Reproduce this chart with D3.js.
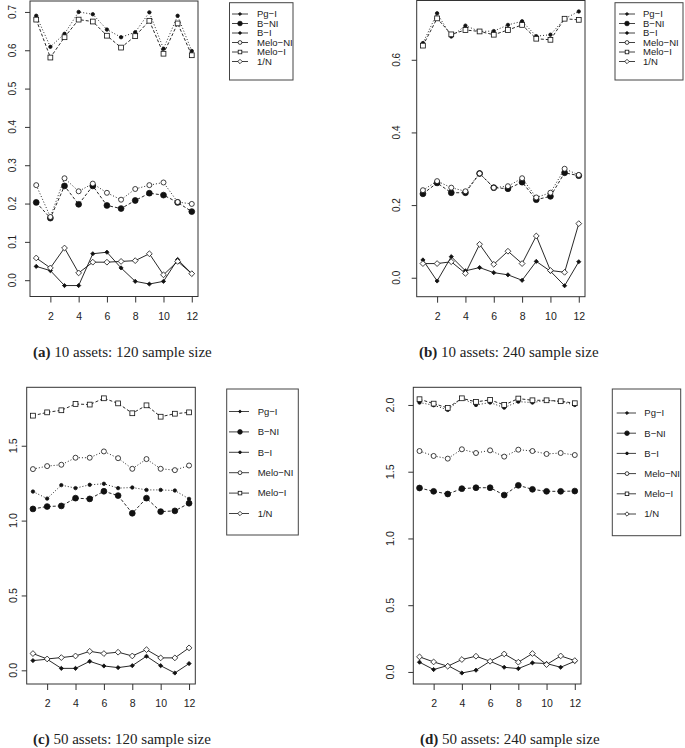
<!DOCTYPE html>
<html>
<head>
<meta charset="utf-8">
<script src="https://cdn.jsdelivr.net/npm/d3@7"></script>
<style>
  body { margin: 0; background: #fff; }
  text { fill: #222; }
</style>
</head>
<body>
<svg id="chart" width="685" height="748"></svg>
<script>
// x categories and tick labels
const periods = [1, 2, 3, 4, 5, 6, 7, 8, 9, 10, 11, 12];
const xTicks = [2, 4, 6, 8, 10, 12];

const seriesNames = ["Pg\u2212I", "B\u2212NI", "B\u2212I", "Melo\u2212NI", "Melo\u2212I", "1/N"];

// (a) 10 assets, 120 sample size
const pgI_a    = [0.036, 0.025, -0.014, -0.014, 0.069, 0.073, 0.032, -0.003, -0.010, -0.003, 0.054, 0.017];
const bNI_a    = [0.203, 0.162, 0.246, 0.198, 0.246, 0.195, 0.187, 0.208, 0.227, 0.222, 0.203, 0.179];
const bI_a     = [0.690, 0.609, 0.643, 0.700, 0.694, 0.654, 0.634, 0.647, 0.699, 0.604, 0.690, 0.598];
const meloNI_a = [0.248, 0.165, 0.266, 0.232, 0.252, 0.228, 0.210, 0.238, 0.248, 0.255, 0.204, 0.199];
const meloI_a  = [0.680, 0.581, 0.634, 0.680, 0.675, 0.638, 0.607, 0.637, 0.677, 0.591, 0.670, 0.587];
const oneN_a   = [0.058, 0.032, 0.084, 0.019, 0.047, 0.047, 0.049, 0.051, 0.069, 0.014, 0.049, 0.017];

// (b) 10 assets, 240 sample size
const pgI_b    = [0.049, -0.009, 0.058, 0.019, 0.028, 0.014, 0.008, -0.007, 0.045, 0.018, -0.022, 0.044];
const bNI_b    = [0.231, 0.261, 0.234, 0.234, 0.287, 0.248, 0.245, 0.263, 0.215, 0.224, 0.289, 0.281];
const bI_b     = [0.646, 0.728, 0.664, 0.694, 0.678, 0.679, 0.696, 0.706, 0.665, 0.669, 0.713, 0.733];
const meloNI_b = [0.241, 0.266, 0.248, 0.238, 0.287, 0.248, 0.252, 0.274, 0.221, 0.234, 0.300, 0.283];
const meloI_b  = [0.639, 0.714, 0.670, 0.682, 0.678, 0.669, 0.682, 0.696, 0.658, 0.655, 0.713, 0.710];
const oneN_b   = [0.039, 0.039, 0.044, 0.012, 0.092, 0.037, 0.073, 0.039, 0.115, 0.020, 0.015, 0.149];

// (c) 50 assets, 120 sample size
const pgI_c    = [0.065, 0.074, 0.013, 0.013, 0.060, 0.029, 0.018, 0.031, 0.094, 0.031, -0.018, 0.045];
const bNI_c    = [1.078, 1.094, 1.098, 1.150, 1.145, 1.196, 1.167, 1.049, 1.150, 1.060, 1.065, 1.116];
const bI_c     = [1.194, 1.147, 1.237, 1.217, 1.239, 1.246, 1.217, 1.221, 1.205, 1.205, 1.201, 1.145];
const meloNI_c = [1.344, 1.364, 1.373, 1.420, 1.420, 1.462, 1.417, 1.346, 1.411, 1.346, 1.337, 1.368];
const meloI_c  = [1.701, 1.723, 1.737, 1.779, 1.775, 1.817, 1.783, 1.717, 1.770, 1.694, 1.714, 1.723];
const oneN_c   = [0.112, 0.076, 0.085, 0.096, 0.127, 0.112, 0.121, 0.096, 0.138, 0.083, 0.083, 0.150];

// (d) 50 assets, 240 sample size
const pgI_d    = [0.073, 0.018, 0.048, -0.008, 0.013, 0.080, 0.035, 0.025, 0.068, 0.063, 0.035, 0.080];
const bNI_d    = [1.378, 1.353, 1.333, 1.373, 1.380, 1.380, 1.325, 1.398, 1.368, 1.353, 1.353, 1.355];
const bI_d     = [2.018, 1.998, 1.963, 2.050, 2.000, 2.018, 1.980, 2.025, 2.018, 2.035, 2.025, 2.000];
const meloNI_d = [1.655, 1.618, 1.598, 1.668, 1.640, 1.660, 1.613, 1.665, 1.655, 1.633, 1.640, 1.625];
const meloI_d  = [2.043, 2.010, 1.978, 2.050, 2.023, 2.038, 2.000, 2.048, 2.035, 2.035, 2.028, 2.013];
const oneN_d   = [0.113, 0.075, 0.043, 0.093, 0.118, 0.080, 0.135, 0.073, 0.138, 0.055, 0.120, 0.085];

// y tick values per panel
const yTicks_a = [0, 0.1, 0.2, 0.3, 0.4, 0.5, 0.6, 0.7];
const yTicks_b = [0, 0.2, 0.4, 0.6];
const yTicks_c = [0, 0.5, 1.0, 1.5];
const yTicks_d = [0, 0.5, 1.0, 1.5, 2.0];

const captionTags = ["(a)", "(b)", "(c)", "(d)"];
const captionTexts = [" 10 assets: 120 sample size", " 10 assets: 240 sample size",
                      " 50 assets: 120 sample size", " 50 assets: 240 sample size"];

// series styles (R-like lty / pch)
const sDash   = [null, "3,2", "1,2", "1,2", "3,2", null];
const sShape  = ["diamond", "circle", "circle", "circle", "square", "diamond"];
const sFilled = [true, true, true, false, false, false];
const sSize   = [2.1, 2.9, 1.7, 2.5, 2.4, 2.9];
const sLegSz  = [1.6, 2.3, 1.3, 1.9, 1.8, 2.2];

// layout of each panel
const panels = [
  { series: [pgI_a, bNI_a, bI_a, meloNI_a, meloI_a, oneN_a], yTicks: yTicks_a, fmt: ".1f",
    box: [30, 1, 198, 296.5], yLab: 12.7, yFont: 10,
    leg: { x0: 229.5, y0: 2.7, x1: 293, y1: 80, r0: 14, dy: 9.5, l0: 232, l1: 248, sx: 240, tx: 257, fs: 9.5 },
    cap: [33, 356.5] },
  { series: [pgI_b, bNI_b, bI_b, meloNI_b, meloI_b, oneN_b], yTicks: yTicks_b, fmt: ".1f",
    box: [416.7, 0.5, 585, 296.7], yLab: 396, yFont: 10,
    leg: { x0: 615, y0: 2.7, x1: 683, y1: 80, r0: 14, dy: 9.5, l0: 619, l1: 635, sx: 627, tx: 643, fs: 9.5 },
    cap: [419, 356.5] },
  { series: [pgI_c, bNI_c, bI_c, meloNI_c, meloI_c, oneN_c], yTicks: yTicks_c, fmt: ".1f",
    box: [26.7, 387.3, 195.3, 684], yLab: 13.3, yFont: 10.8,
    leg: { x0: 226.7, y0: 389, x1: 298.3, y1: 535, r0: 411.5, dy: 20.4, l0: 229, l1: 249, sx: 240, tx: 257.7, fs: 9.5 },
    cap: [33, 744] },
  { series: [pgI_d, bNI_d, bI_d, meloNI_d, meloI_d, oneN_d], yTicks: yTicks_d, fmt: ".1f",
    box: [413.3, 387.3, 581, 684], yLab: 390, yFont: 10.8,
    leg: { x0: 612.3, y0: 389, x1: 680.7, y1: 535.7, r0: 413, dy: 20.2, l0: 616.7, l1: 636, sx: 627, tx: 644.3, fs: 9.5 },
    cap: [420, 744] }
];

const svg = d3.select("#chart");
const ink = "#111";

function drawSymbol(g, shape, filled, r, cx, cy) {
  const fill = filled ? ink : "#fff";
  if (shape === "circle") {
    g.append("circle").attr("cx", cx).attr("cy", cy).attr("r", r)
      .attr("fill", fill).attr("stroke", ink).attr("stroke-width", 0.8);
  } else if (shape === "square") {
    g.append("rect").attr("x", cx - r).attr("y", cy - r).attr("width", 2 * r).attr("height", 2 * r)
      .attr("fill", fill).attr("stroke", ink).attr("stroke-width", 0.8);
  } else {
    g.append("path")
      .attr("d", `M${cx},${cy - r}L${cx + r},${cy}L${cx},${cy + r}L${cx - r},${cy}Z`)
      .attr("fill", fill).attr("stroke", ink).attr("stroke-width", 0.8);
  }
}

panels.forEach((p, pi) => {
  const [l, t, r, b] = p.box;
  const all = p.series.flat();
  const [mn, mx] = d3.extent(all);
  const pad = (mx - mn) * 0.04;   // R's default 4% axis extension
  const x = d3.scaleLinear().domain([1 - 11 * 0.04, 12 + 11 * 0.04]).range([l, r]);
  const y = d3.scaleLinear().domain([mn - pad, mx + pad]).range([b, t]);
  const g = svg.append("g");

  // box
  g.append("rect").attr("x", l).attr("y", t).attr("width", r - l).attr("height", b - t)
    .attr("fill", "none").attr("stroke", "#333").attr("stroke-width", 1);

  // x axis
  const xAxis = d3.axisBottom(x).tickValues(xTicks).tickSize(6).tickPadding(10).tickFormat(d3.format("d"));
  const gx = g.append("g").attr("transform", `translate(0,${b})`).call(xAxis);
  gx.select(".domain").remove();
  gx.selectAll("line").attr("stroke", "#333");
  gx.selectAll("text").attr("font-family", "Liberation Sans, Arial, sans-serif")
    .attr("font-size", 10.5).attr("fill", "#222");

  // y axis, labels rotated like R
  const yAxis = d3.axisLeft(y).tickValues(p.yTicks).tickSize(5).tickFormat("");
  const gy = g.append("g").attr("transform", `translate(${l},0)`).call(yAxis);
  gy.select(".domain").remove();
  gy.selectAll("line").attr("stroke", "#333");
  g.selectAll(".ylab").data(p.yTicks).enter().append("text")
    .attr("transform", d => `translate(${p.yLab},${y(d)}) rotate(-90)`)
    .attr("dy", "0.35em").attr("text-anchor", "middle")
    .attr("font-family", "Liberation Sans, Arial, sans-serif").attr("font-size", p.yFont)
    .text(d => d3.format(p.fmt)(d));

  // series lines
  const line = d3.line().x((d, i) => x(periods[i])).y(d => y(d));
  p.series.forEach((s, si) => {
    g.append("path").datum(s).attr("d", line).attr("fill", "none")
      .attr("stroke", ink).attr("stroke-width", 0.9)
      .attr("stroke-dasharray", sDash[si]);
  });
  // series points
  p.series.forEach((s, si) => {
    const pg = g.append("g");
    s.forEach((v, i) => drawSymbol(pg, sShape[si], sFilled[si], sSize[si], x(periods[i]), y(v)));
  });

  // legend
  const L = p.leg;
  const lg = svg.append("g");
  lg.append("rect").attr("x", L.x0).attr("y", L.y0).attr("width", L.x1 - L.x0).attr("height", L.y1 - L.y0)
    .attr("fill", "#fff").attr("stroke", "#444").attr("stroke-width", 1);
  seriesNames.forEach((name, si) => {
    const yy = L.r0 + si * L.dy;
    lg.append("line").attr("x1", L.l0).attr("x2", L.l1).attr("y1", yy).attr("y2", yy)
      .attr("stroke", ink).attr("stroke-width", 0.8);
    drawSymbol(lg, sShape[si], sFilled[si], sLegSz[si], L.sx, yy);
    lg.append("text").attr("x", L.tx).attr("y", yy).attr("dy", "0.35em")
      .attr("font-family", "Liberation Sans, Arial, sans-serif").attr("font-size", L.fs)
      .text(name);
  });

  // caption
  const cap = svg.append("text").attr("x", p.cap[0]).attr("y", p.cap[1])
    .attr("font-family", "Liberation Serif, Times New Roman, serif").attr("font-size", 15)
    .attr("fill", "#111");
  cap.append("tspan").attr("font-weight", "bold").text(captionTags[pi]);
  cap.append("tspan").text(captionTexts[pi]);
});
</script>
</body>
</html>
